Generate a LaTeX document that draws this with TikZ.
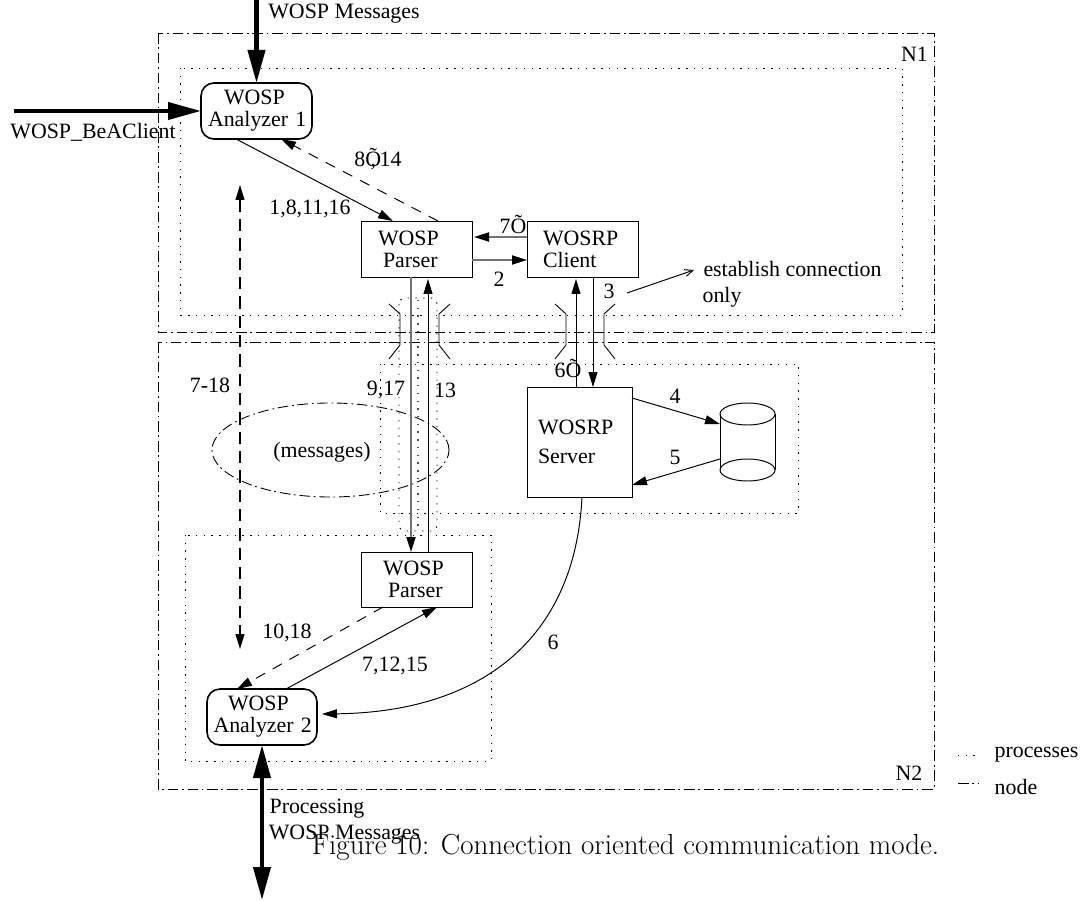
\documentclass[tikz,border=0pt]{standalone}
\usepackage{fontspec}
\setmainfont{Liberation Serif}
\newfontfamily\capfont{Latin Modern Roman}
\usetikzlibrary{arrows.meta,shapes.geometric}
\tikzset{
  lbl/.style={inner sep=0pt, outer sep=0pt},
  procbox/.style={draw, rectangle, align=left, inner xsep=0pt, inner ysep=0pt, outer sep=0pt, line width=0.5pt},
  anabox/.style={procbox, rounded corners=0.26cm, line width=0.9pt},
  nodearea/.style={line width=0.5pt, dash pattern=on 6pt off 2pt on 1pt off 2.3pt},
  procarea/.style={line width=0.55pt, dash pattern=on 0.8pt off 3.6pt},
  pipe/.style={line width=0.5pt},
  graylink/.style={draw=black!55, line width=1pt, -{Stealth[inset=0pt,length=.3cm,width=.18cm,black]}},
  heavy/.style={line width=2.3pt, -{Stealth[inset=0pt,length=.66cm,width=.34cm]}},
}
\begin{document}
\begin{tikzpicture}[>={Stealth[inset=0pt,length=.3cm,width=.18cm]}, line width=0.55pt, font=\fontsize{12.45}{12.5}\selectfont]
\useasboundingbox (0,0) rectangle (21.62,18);
% node and process areas
\draw[nodearea] (3.16,17.34) rectangle (18.68,11.36);
\draw[nodearea] (3.16,11.16) rectangle (18.68,2.22);
\draw[procarea] (3.6,16.64) rectangle (18.04,11.7);
\draw[procarea] (7.6,10.72) rectangle (15.96,7.74);
\draw[procarea] (3.7,7.3) rectangle (9.82,2.78);
\draw[procarea, rounded corners=0.12cm] (7.98,12.04) rectangle (8.74,7.38);
\draw[procarea, draw=black!70, line width=1.3pt] (8.36,12) -- (8.36,7.42);
\node[draw, ellipse, inner sep=0pt, minimum width=4.74cm, minimum height=1.88cm, nodearea] (cloud) at (6.61,9.0) {};
% boxes
\node[anabox, text width=2.22cm, minimum height=1.12cm] (ana1) at (5.13,15.78) {\hspace*{0.46cm}WOSP\\\hspace*{0.14cm}Analyzer 1};
\node[procbox, text width=2.22cm, minimum height=1.12cm] (par1) at (8.33,13.02) {\hspace*{0.34cm}WOSP\\\hspace*{0.44cm}Parser};
\node[procbox, text width=2.22cm, minimum height=1.12cm] (cli) at (11.65,13.02) {\hspace*{0.32cm}WOSRP\\\hspace*{0.32cm}Client};
\node[procbox, text width=2.10cm, minimum height=2.20cm] (srv) at (11.59,9.16) {\hspace*{0.22cm}WOSRP\\[0.14cm]\hspace*{0.22cm}Server};
\node[procbox, text width=2.22cm, minimum height=1.10cm] (par2) at (8.33,6.41) {\hspace*{0.44cm}WOSP\\\hspace*{0.54cm}Parser};
\node[anabox, text width=2.20cm, minimum height=1.12cm] (ana2) at (5.24,3.66) {\hspace*{0.42cm}WOSP\\\hspace*{0.13cm}Analyzer 2};
% database
\node[inner sep=0pt, outer sep=0pt, minimum width=1.10cm, minimum height=1.56cm] (db) at (14.95,9.16) {};
\draw (14.95,9.72) ellipse (0.55 and 0.22);
\draw (14.95,8.6) ellipse (0.55 and 0.22);
\draw (14.4,9.72) -- (14.4,8.6);
\draw (15.5,9.72) -- (15.5,8.6);
% free ends
\coordinate (msgin) at (5.13,18);
\coordinate (bcin) at (0.28,15.78);
\coordinate (procout) at (5.24,0);
\coordinate (dbltop) at (4.8,14.3);
\coordinate (dblbot) at (4.8,5.02);
\coordinate (estA) at (12.54,12.14);
\coordinate (estB) at (13.88,12.6);
% connectors
\draw[heavy] (msgin) -- (ana1.north);
\draw[heavy] (bcin) -- (ana1.west);
\draw[heavy, {Stealth[inset=0pt,length=.66cm,width=.34cm]}-{Stealth[inset=0pt,length=.66cm,width=.34cm]}] (ana2.south) -- (procout);
\draw[->] ([xshift=-.41cm]ana1.south) -- ([xshift=-.47cm]par1.north);
\draw[->, dashed, dash pattern=on 6pt off 5pt] ([xshift=.43cm]par1.north) -- ([xshift=.49cm]ana1.south);
\draw[graylink] ([yshift=.24cm]cli.west) -- ([yshift=.24cm,xshift=.04cm]par1.east);
\draw[graylink] ([yshift=-.22cm]par1.east) -- ([yshift=-.22cm]cli.west);
\draw[graylink] ([xshift=-.11cm]par1.south) -- ([xshift=-.11cm]par2.north);
\draw[->] ([xshift=.23cm]par2.north) -- ([xshift=.23cm,yshift=-.04cm]par1.south);
\draw[->] ([xshift=-.07cm]srv.north) -- ([xshift=-.13cm,yshift=-.04cm]cli.south);
\draw[->] ([xshift=.21cm]cli.south) -- ([xshift=.27cm]srv.north);
\draw[->] ([yshift=.88cm]srv.east) -- ([yshift=.36cm]db.west);
\draw[->] ([yshift=-.34cm]db.west) -- ([yshift=-.86cm]srv.east);
\draw[->] ([xshift=.05cm]srv.south) .. controls (11.5,5.2) and (9.6,3.76) .. ([xshift=.1cm,yshift=.06cm]ana2.east);
\draw[->, dashed, dash pattern=on 6pt off 5pt] ([xshift=-.67cm]par2.south) -- ([xshift=-.5cm]ana2.north);
\draw[->] ([xshift=.48cm]ana2.north) -- ([xshift=.41cm]par2.south);
\draw[<->, line width=0.6pt, dash pattern=on 7pt off 4pt] (dbltop) -- (dblbot);
\draw[-{Straight Barb[length=.16cm,width=.14cm]}] (estA) -- (estB);
% pipes
\draw[pipe] (7.78,11.92) -- (8.0,11.72) -- (8.0,11.1) -- (7.78,10.82);
\draw[pipe] (9.0,11.92) -- (8.78,11.72) -- (8.78,11.1) -- (9.0,10.82);
\draw[pipe] (11.1,11.92) -- (11.32,11.72) -- (11.32,11.1) -- (11.1,10.82);
\draw[pipe] (12.3,11.92) -- (12.08,11.72) -- (12.08,11.1) -- (12.3,10.82);
% labels
\node[lbl] (msgtop) at (6.88,17.72) {WOSP Messages};
\node[lbl] (beclient) at (1.86,15.36) {WOSP\_BeAClient};
\node[lbl] (nameA) at (18.29,16.92) {N1};
\node[lbl] (nameB) at (18.18,2.54) {N2};
\node[lbl] (reply) at (7.56,14.82) {8Õ\kern-6pt,\kern2pt 14};
\node[lbl] (req) at (6.2,13.82) {1,8,11,16};
\node[lbl] (sevenO) at (10.26,13.52) {7Õ};
\node[lbl] (two) at (9.98,12.42) {2};
\node[lbl] (three) at (12.18,12.18) {3};
\node[lbl] (estab) at (15.85,12.62) {establish connection};
\node[lbl] (only) at (14.44,12.06) {only};
\node[lbl] (sixO) at (11.36,10.64) {6Õ};
\node[lbl] (nine) at (7.72,10.2) {9,17};
\node[lbl] (thirteen) at (8.9,10.2) {13};
\node[lbl] (span) at (4.2,10.3) {7-18};
\node[lbl] (msgs) at (6.44,8.96) {(messages)};
\node[lbl] (four) at (13.5,10.08) {4};
\node[lbl] (five) at (13.5,8.86) {5};
\node[lbl] (ten) at (5.74,5.34) {10,18};
\node[lbl] (seven) at (7.9,4.68) {7,12,15};
\node[lbl] (six) at (11.06,5.16) {6};
\node[lbl] (procA) at (6.34,1.82) {Processing};
\node[lbl] (procB) at (6.89,1.3) {WOSP Messages};
% legend
\draw[procarea] (19.16,2.9) -- (19.58,2.9);
\draw[nodearea] (19.16,2.34) -- (19.58,2.34);
\node[lbl] (legA) at (20.73,2.9) {processes};
\node[lbl] (legB) at (20.32,2.26) {node};
% caption
\node[lbl, font=\capfont\fontsize{16.5}{16.5}\selectfont] (caption) at (12.51,1.06) {Figure 10: Connection oriented communication mode.};
\end{tikzpicture}
\end{document}
